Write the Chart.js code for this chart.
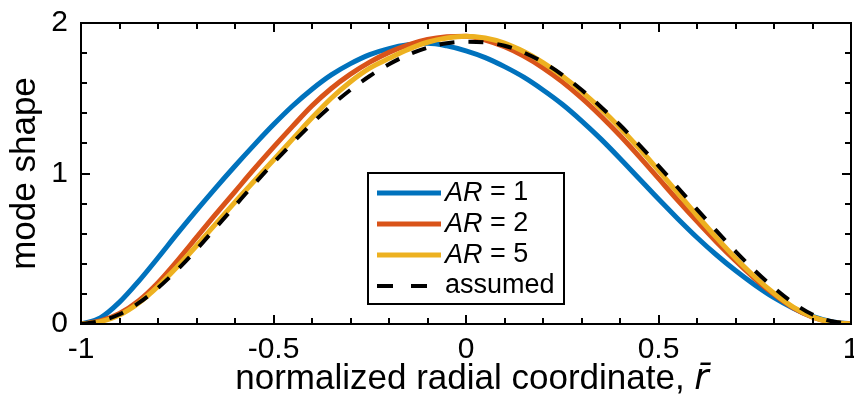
<!DOCTYPE html>
<html><head><meta charset="utf-8">
<script src="https://cdn.jsdelivr.net/npm/chart.js@4.4.0/dist/chart.umd.min.js"></script>
<style>html,body{margin:0;padding:0;background:#fff;}#wrap{width:854px;height:398px;position:relative;}</style>
</head><body><div id="wrap"><canvas id="c" width="854" height="398"></canvas></div>
<script>
const radius = [-1,-0.95,-0.9,-0.85,-0.8,-0.75,-0.7,-0.65,-0.6,-0.55,-0.5,-0.45,-0.4,-0.35,-0.3,-0.25,-0.2,-0.15,-0.1,-0.05,0,0.05,0.1,0.15,0.2,0.25,0.3,0.35,0.4,0.45,0.5,0.55,0.6,0.65,0.7,0.75,0.8,0.85,0.9,0.95,1];
const modeAR1 = [0,0.04,0.145,0.285,0.44,0.60,0.755,0.905,1.05,1.19,1.325,1.45,1.56,1.655,1.73,1.79,1.83,1.855,1.865,1.848,1.815,1.77,1.71,1.64,1.555,1.46,1.35,1.23,1.10,0.965,0.83,0.70,0.575,0.46,0.355,0.26,0.175,0.105,0.05,0.015,0];
const modeAR2 = [0,0.02,0.07,0.155,0.275,0.42,0.575,0.73,0.88,1.03,1.175,1.315,1.45,1.565,1.66,1.74,1.805,1.855,1.89,1.908,1.912,1.887,1.842,1.78,1.702,1.609,1.502,1.382,1.252,1.112,0.967,0.822,0.682,0.547,0.42,0.302,0.197,0.107,0.045,0.012,0];
const modeAR5 = [0,0.015,0.06,0.14,0.25,0.38,0.52,0.665,0.81,0.95,1.09,1.23,1.37,1.50,1.61,1.70,1.765,1.825,1.872,1.90,1.912,1.90,1.866,1.81,1.737,1.648,1.546,1.431,1.304,1.166,1.021,0.871,0.721,0.576,0.439,0.314,0.204,0.112,0.047,0.012,0];
const modeAssumed = [0,0.02,0.065,0.14,0.24,0.36,0.495,0.64,0.785,0.93,1.07,1.205,1.333,1.451,1.556,1.648,1.726,1.789,1.836,1.866,1.876,1.871,1.849,1.804,1.739,1.656,1.556,1.444,1.322,1.19,1.051,0.907,0.762,0.62,0.483,0.355,0.24,0.14,0.063,0.018,0];
const seriesNames = ['1','2','5','assumed'];
const xTickLabels = [-1,-0.5,0,0.5,1];
const yTickLabels = [0,1,2];
const xMinorTicks = [-1,-0.9,-0.8,-0.7,-0.6,-0.5,-0.4,-0.3,-0.2,-0.1,0,0.1,0.2,0.3,0.4,0.5,0.6,0.7,0.8,0.9,1];
const yMinorTicks = [0,0.2,0.4,0.6,0.8,1,1.2,1.4,1.6,1.8,2];
const xTitleMain = 'normalized radial coordinate, ';
const xTitleSymbol = 'r\u0304';

const FAM = '"Liberation Sans", Arial, Helvetica, sans-serif';
const colors = ['#0072BD','#D95319','#EDB120','#000000'];
const pts = arr => radius.map((r,i)=>({x:r,y:arr[i]}));
const allSeries = [modeAR1, modeAR2, modeAR5, modeAssumed];

const datasets = allSeries.map((arr,i)=>({
  label: seriesNames[i],
  data: pts(arr),
  borderColor: colors[i],
  backgroundColor: colors[i],
  borderWidth: i===3 ? 4 : 5,
  borderDash: i===3 ? [15,14] : [],
  pointRadius: 0,
  fill: false,
  cubicInterpolationMode: 'monotone',
  order: 4 - i
}));

const boxPlugin = {
  id: 'boxPlugin',
  afterDatasetsDraw(chart){
    const {ctx, chartArea:a, scales:{x, y}} = chart;
    ctx.save();
    ctx.strokeStyle = '#000';
    ctx.lineWidth = 2;
    ctx.strokeRect(a.left, a.top, a.right - a.left, a.bottom - a.top);
    ctx.beginPath();
    xMinorTicks.forEach(v=>{
      const px = Math.round(x.getPixelForValue(v));
      const len = xTickLabels.includes(v) ? 9 : 6;
      ctx.moveTo(px, a.bottom); ctx.lineTo(px, a.bottom - len);
      ctx.moveTo(px, a.top); ctx.lineTo(px, a.top + len);
    });
    yMinorTicks.forEach(v=>{
      const py = Math.round(y.getPixelForValue(v));
      const len = yTickLabels.includes(v) ? 9 : 6;
      ctx.moveTo(a.left, py); ctx.lineTo(a.left + len, py);
      ctx.moveTo(a.right, py); ctx.lineTo(a.right - len, py);
    });
    ctx.stroke();

    // legend
    const lx = 368, ly = 173, lw = 196, lh = 131;
    ctx.fillStyle = '#fff';
    ctx.fillRect(lx, ly, lw, lh);
    ctx.lineWidth = 2;
    ctx.strokeStyle = '#000';
    ctx.strokeRect(lx, ly, lw, lh);
    const rows = [193, 224, 255, 286];
    chart.data.datasets.forEach((ds, i)=>{
      const yy = rows[i];
      ctx.save();
      ctx.strokeStyle = ds.borderColor;
      ctx.lineWidth = ds.borderWidth;
      ctx.setLineDash(i===3 ? [16,18] : []);
      ctx.beginPath(); ctx.moveTo(377, yy); ctx.lineTo(441, yy); ctx.stroke();
      ctx.restore();
      ctx.fillStyle = '#000';
      ctx.textBaseline = 'middle';
      ctx.textAlign = 'left';
      let tx = 445;
      if (i < 3) {
        ctx.font = 'italic 27px ' + FAM;
        ctx.fillText('AR', tx, yy);
        tx += ctx.measureText('AR').width;
        ctx.font = '27px ' + FAM;
        ctx.fillText(' = ' + ds.label, tx, yy);
      } else {
        ctx.font = '27px ' + FAM;
        ctx.fillText(ds.label, tx, yy);
      }
    });

    // x-axis title with italic r-bar
    ctx.fillStyle = '#000';
    ctx.textBaseline = 'alphabetic';
    ctx.textAlign = 'left';
    ctx.font = '35px ' + FAM;
    const w1 = ctx.measureText(xTitleMain).width;
    ctx.font = 'italic 35px "DejaVu Sans", ' + FAM;
    const w2 = ctx.measureText(xTitleSymbol).width;
    const cx = (a.left + a.right) / 2 + 6;
    let sx = cx - (w1 + w2) / 2;
    ctx.font = '35px ' + FAM;
    ctx.fillText(xTitleMain, sx, 389);
    ctx.font = 'italic 35px "DejaVu Sans", ' + FAM;
    ctx.fillText(xTitleSymbol, sx + w1, 389);
    ctx.restore();
  }
};

new Chart(document.getElementById('c'), {
  type: 'line',
  data: { datasets },
  options: {
    responsive: false,
    animation: false,
    devicePixelRatio: 1,
    layout: { padding: { top: 23, right: 3, left: 0, bottom: 0 } },
    plugins: { legend: { display: false }, tooltip: { enabled: false } },
    scales: {
      x: {
        type: 'linear', min: -1, max: 1,
        grid: { display: false, drawTicks: false },
        border: { display: false },
        afterBuildTicks: s => { s.ticks = xTickLabels.map(v => ({ value: v })); },
        afterFit: s => { s.height = 74; s.paddingLeft = 0; s.paddingRight = 0; },
        ticks: { font: { family: FAM, size: 30 }, color: '#000', padding: 8, maxRotation: 0, autoSkip: false, callback: v => String(v) },
        title: { display: false }
      },
      y: {
        type: 'linear', min: 0, max: 2,
        grid: { display: false, drawTicks: false },
        border: { display: false },
        afterBuildTicks: s => { s.ticks = yTickLabels.map(v => ({ value: v })); },
        afterFit: s => { s.width = 81; s.paddingTop = 0; s.paddingBottom = 0; },
        ticks: { font: { family: FAM, size: 30 }, color: '#000', padding: 13, callback: v => String(v) },
        title: { display: true, text: 'mode shape', font: { family: FAM, size: 35 }, color: '#000', padding: { top: 4, bottom: 0 } }
      }
    }
  },
  plugins: [boxPlugin]
});
</script>
</body></html>
